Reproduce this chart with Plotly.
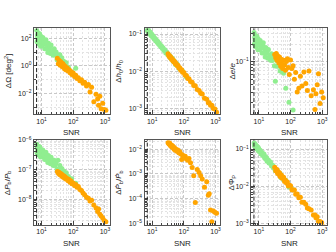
import plotly.graph_objects as go

# ---------------- data ----------------
snr_threshold = 7.0

green_snr = [7.08, 7.24, 7.41, 7.59, 7.76, 7.94, 8.13, 8.32, 8.51, 8.71,
             8.91, 9.12, 9.33, 9.55, 9.77, 10.0, 10.5, 11.0, 11.5, 12.0,
             12.6, 13.2, 13.8, 14.5, 15.1, 15.8, 16.6, 17.4, 18.2, 19.1,
             20.0, 20.9, 21.9, 23.4, 25.1, 26.9, 28.8, 30.9, 33.1, 35.5,
             38.0, 40.7, 43.7, 46.8, 50.1, 55.0, 60.3, 70.8, 89.1, 120.0]

orange_snr = [31.6, 33.9, 35.5, 37.2, 38.9, 40.7, 42.7, 44.7, 46.8, 49.0,
              51.3, 53.7, 56.2, 60.3, 64.6, 69.2, 74.1, 79.4, 85.1, 91.2,
              100, 110, 120, 132, 145, 162, 182, 204, 229, 263,
              302, 339, 380, 447, 525, 589, 631, 692, 759, 851,
              955, 1072]

# Panel 1: sky localisation  dOmega [deg^2]
green_domega = [370, 56, 170, 102, 240, 41, 174, 93, 50, 214,
                58, 95, 26, 138, 59, 100, 29, 115, 37, 48,
                17, 62, 79, 18, 32, 9.3, 43, 17, 25, 7.9,
                32, 9.1, 13, 5.8, 17, 6.0, 10, 2.8, 6.2, 2.6,
                6.5, 2.8, 3.8, 1.3, 2.2, 1.2, 1.7, 0.76, 0.35, 0.68]
orange_domega = [3.5, 1.4, 2.6, 1.8, 1.1, 2.0, 1.26, 0.89, 1.5, 0.79,
                 1.1, 0.60, 0.89, 0.50, 0.71, 0.42, 0.52, 0.32, 0.40, 0.24,
                 0.30, 0.17, 0.21, 0.12, 0.14, 0.083, 0.10, 0.056, 0.066, 0.035,
                 0.045, 0.013, 0.028, 0.0025, 0.0089, 0.004, 0.0014, 0.0063, 0.00079, 0.002,
                 0.00071, 0.00063]

# Panel 2: dh0/h0
green_dh = [0.133, 0.118, 0.127, 0.113, 0.122, 0.107, 0.117, 0.103, 0.111, 0.098,
            0.106, 0.094, 0.101, 0.089, 0.097, 0.086, 0.090, 0.078, 0.082, 0.071,
            0.075, 0.065, 0.068, 0.059, 0.063, 0.054, 0.057, 0.049, 0.051, 0.045,
            0.047, 0.041, 0.043, 0.036, 0.038, 0.031, 0.033, 0.028, 0.028, 0.024,
            0.025, 0.021, 0.022, 0.018, 0.019, 0.015, 0.016, 0.012, 0.0105, 0.0071]
orange_dh = [0.0296, 0.0255, 0.0264, 0.0232, 0.0240, 0.0212, 0.0219, 0.0193, 0.0200, 0.0177,
             0.0182, 0.0161, 0.0166, 0.0143, 0.0145, 0.0125, 0.0126, 0.0108, 0.0110, 0.0095,
             0.0094, 0.0079, 0.0078, 0.0065, 0.0064, 0.0054, 0.0051, 0.0042, 0.0041, 0.0033,
             0.0031, 0.0026, 0.0025, 0.0019, 0.0018, 0.00144, 0.00146, 0.00125, 0.00125, 0.00102,
             0.00098, 0.00081]

# Panel 3: de/e
green_de = [0.316, 0.20, 0.26, 0.23, 0.28, 0.18, 0.26, 0.22, 0.19, 0.27,
            0.195, 0.22, 0.16, 0.245, 0.20, 0.22, 0.16, 0.23, 0.17, 0.18,
            0.14, 0.195, 0.21, 0.14, 0.165, 0.12, 0.175, 0.14, 0.15, 0.114,
            0.162, 0.117, 0.128, 0.105, 0.136, 0.104, 0.118, 0.085, 0.046, 0.083,
            0.103, 0.084, 0.090, 0.069, 0.078, 0.066, 0.063, 0.035, 0.020, 0.0148]
orange_de = [0.132, 0.117, 0.138, 0.105, 0.126, 0.112, 0.095, 0.120, 0.102, 0.083,
             0.110, 0.091, 0.076, 0.105, 0.087, 0.071, 0.100, 0.112, 0.079, 0.060,
             0.107, 0.076, 0.085, 0.050, 0.065, 0.030, 0.035, 0.056, 0.038, 0.066,
             0.042, 0.032, 0.069, 0.026, 0.033, 0.015, 0.028, 0.040, 0.062, 0.019,
             0.030, 0.024]

# Panel 4: dPb/Pb
green_dpb = [7.2e-7, 3.7e-7, 5.5e-7, 4.6e-7, 6.2e-7, 3.2e-7, 5.5e-7, 4.4e-7, 3.5e-7, 5.9e-7,
             3.6e-7, 4.4e-7, 2.7e-7, 4.9e-7, 3.6e-7, 4.4e-7, 2.75e-7, 4.6e-7, 3.0e-7, 3.2e-7,
             2.2e-7, 3.5e-7, 3.9e-7, 2.2e-7, 2.75e-7, 1.75e-7, 3.0e-7, 2.15e-7, 2.45e-7, 1.6e-7,
             2.65e-7, 1.7e-7, 1.9e-7, 1.4e-7, 2.1e-7, 1.4e-7, 1.7e-7, 1.05e-7, 2.1e-7, 1.0e-7,
             1.4e-7, 1.0e-7, 1.1e-7, 7.4e-8, 9.1e-8, 7.1e-8, 8.0e-8, 6.0e-8, 5.0e-8, 3.5e-8]
orange_dpb = [8.7e-8, 7.6e-8, 8.3e-8, 6.9e-8, 7.6e-8, 6.5e-8, 7.2e-8, 6.0e-8, 6.6e-8, 5.6e-8,
              6.2e-8, 5.2e-8, 5.75e-8, 4.8e-8, 5.1e-8, 4.3e-8, 4.7e-8, 3.8e-8, 4.2e-8, 3.4e-8,
              3.6e-8, 2.95e-8, 3.2e-8, 2.6e-8, 2.75e-8, 2.2e-8, 2.0e-8, 1.66e-8, 1.45e-8, 1.2e-8,
              1.1e-8, 8.9e-9, 9.5e-9, 6.6e-9, 5.2e-9, 4.0e-9, 4.8e-9, 3.2e-9, 2.8e-9, 2.4e-9,
              2.0e-9, 1.8e-9]

# Panel 5: dPbdot/Pbdot (only orange population)
orange_dpbdot = [1.8e-2, 1.6e-2, 1.75e-2, 1.4e-2, 1.5e-2, 1.26e-2, 1.4e-2, 1.15e-2, 1.26e-2, 1.0e-2,
                 1.1e-2, 9.1e-3, 1.0e-2, 8.3e-3, 9.3e-3, 7.2e-3, 7.9e-3, 6.3e-3, 3.8e-3, 5.75e-3,
                 5.0e-3, 5.2e-3, 4.0e-3, 3.6e-3, 4.2e-3, 2.8e-3, 1.8e-3, 8.5e-4, 7.1e-5, 1.5e-3,
                 1.15e-3, 8.5e-4, 6.3e-4, 2.9e-4, 4.9e-4, 1.4e-4, 1.6e-4, 3.5e-5, 1.2e-5, 3.2e-5,
                 2.9e-5, 2.6e-5]

# Panel 6: dPhi_P
green_dphi = [0.145, 0.122, 0.128, 0.138, 0.112, 0.126, 0.111, 0.123, 0.101, 0.111,
              0.116, 0.097, 0.102, 0.109, 0.089, 0.100, 0.086, 0.093, 0.075, 0.081,
              0.081, 0.067, 0.069, 0.073, 0.058, 0.063, 0.054, 0.059, 0.047, 0.051,
              0.051, 0.042, 0.043, 0.045, 0.035, 0.037, 0.031, 0.033, 0.026, 0.027,
              0.027, 0.022, 0.022, 0.022, 0.017, 0.018, 0.015, 0.0145, 0.0096, 0.0081]
orange_dphi = [0.0325, 0.0260, 0.0268, 0.0281, 0.0224, 0.0245, 0.0211, 0.0230, 0.0183, 0.0198,
               0.0200, 0.0165, 0.0169, 0.0174, 0.0135, 0.0144, 0.0122, 0.0130, 0.0101, 0.0106,
               0.0103, 0.0080, 0.0079, 0.0079, 0.0061, 0.0062, 0.0049, 0.0051, 0.0037, 0.0037,
               0.0033, 0.0026, 0.0025, 0.0023, 0.0017, 0.0017, 0.00143, 0.00151, 0.00113, 0.00114,
               0.00107, 0.00083]

x_tick_vals = [10, 100, 1000]
x_tick_text = ["10<sup>1</sup>", "10<sup>2</sup>", "10<sup>3</sup>"]

panels = [
    dict(ylabel="ΔΩ [deg<sup>2</sup>]", g=green_domega, o=orange_domega,
         yrange=[-3.48, 2.71], yt=[1e-2, 1, 1e2],
         ytt=["10<sup>−2</sup>", "10<sup>0</sup>", "10<sup>2</sup>"],
         minor=[1e-3, 1e-1, 10]),
    dict(ylabel="Δ<i>h</i><sub>0</sub>/<i>h</i><sub>0</sub>", g=green_dh, o=orange_dh,
         yrange=[-3.14, -0.85], yt=[1e-3, 1e-2, 1e-1],
         ytt=["10<sup>−3</sup>", "10<sup>−2</sup>", "10<sup>−1</sup>"], minor=None),
    dict(ylabel="Δ<i>e</i>/<i>e</i>", g=green_de, o=orange_de,
         yrange=[-1.90, -0.43], yt=[1e-1], ytt=["10<sup>−1</sup>"], minor=None),
    dict(ylabel="Δ<i>P</i><sub>b</sub>/<i>P</i><sub>b</sub>", g=green_dpb, o=orange_dpb,
         yrange=[-8.84, -5.99], yt=[1e-8, 1e-7, 1e-6],
         ytt=["10<sup>−8</sup>", "10<sup>−7</sup>", "10<sup>−6</sup>"], minor=None),
    dict(ylabel="Δ<i>Ṗ</i><sub>b</sub>/<i>Ṗ</i><sub>b</sub>", g=None, o=orange_dpbdot,
         yrange=[-5.04, -1.62], yt=[1e-5, 1e-4, 1e-3, 1e-2],
         ytt=["10<sup>−5</sup>", "10<sup>−4</sup>", "10<sup>−3</sup>", "10<sup>−2</sup>"], minor=None),
    dict(ylabel="ΔΦ<sub>P</sub>", g=green_dphi, o=orange_dphi,
         yrange=[-3.03, -0.75], yt=[1e-3, 1e-2, 1e-1],
         ytt=["10<sup>−3</sup>", "10<sup>−2</sup>", "10<sup>−1</sup>"], minor=None),
]

# ---------------- layout ----------------
W, H = 336, 252
cols = [(34, 110), (145, 221), (252, 328)]
rows = [(25, 112.7), (139, 226)]
ytitle_x = [8, 120, 233]
GREEN = "#90EE90"
ORANGE = "#FFA500"
FONT = "Liberation Sans, Arial, sans-serif"


def log_minor(lo, hi):
    vals = []
    for d in range(lo, hi + 1):
        for m in range(2, 10):
            vals.append(m * 10.0 ** d)
    return vals


fig = go.Figure()
annotations = []
shapes = []
layout = {}

for i, p in enumerate(panels):
    r, c = divmod(i, 3)
    n = i + 1
    xa = "x" if n == 1 else f"x{n}"
    ya = "y" if n == 1 else f"y{n}"
    if p["g"] is not None:
        fig.add_trace(go.Scatter(x=green_snr, y=p["g"], mode="markers", xaxis=xa, yaxis=ya,
                                 marker=dict(color=GREEN, size=5, line=dict(width=0)),
                                 showlegend=False, hoverinfo="skip"))
    fig.add_trace(go.Scatter(x=orange_snr, y=p["o"], mode="markers", xaxis=xa, yaxis=ya,
                             marker=dict(color=ORANGE, size=5, line=dict(width=0)),
                             showlegend=False, hoverinfo="skip"))

    x0, x1 = cols[c]
    ytop, ybot = rows[r]
    common = dict(showline=True, linecolor="#555555", linewidth=1.2, mirror=True,
                  ticks="inside", ticklen=3.5, tickwidth=0.8, tickcolor="#444444",
                  showgrid=True, gridcolor="#c8c8c8", griddash="3px,2px", gridwidth=0.6,
                  zeroline=False, tickfont=dict(size=7, color="#222222", family=FONT),
                  type="log")
    ymin_d = int(p["yrange"][0]) - 1
    ymax_d = int(p["yrange"][1]) + 1
    yminor = p["minor"] if p["minor"] is not None else log_minor(ymin_d, ymax_d)
    layout["xaxis" if n == 1 else f"xaxis{n}"] = dict(
        common, domain=[x0 / W, x1 / W], anchor=ya, range=[0.76, 3.15],
        tickmode="array", tickvals=x_tick_vals, ticktext=x_tick_text,
        minor=dict(tickmode="array", tickvals=log_minor(0, 3), ticks="inside", ticklen=2,
                   tickcolor="#444444", showgrid=True, gridcolor="#e3e3e3",
                   griddash="2px,2px", gridwidth=0.5))
    layout["yaxis" if n == 1 else f"yaxis{n}"] = dict(
        common, domain=[1 - ybot / H, 1 - ytop / H], anchor=xa, range=p["yrange"],
        tickmode="array", tickvals=p["yt"], ticktext=p["ytt"],
        minor=dict(tickmode="array", tickvals=yminor, ticks="inside", ticklen=2,
                   tickcolor="#444444", showgrid=True, gridcolor="#e3e3e3",
                   griddash="2px,2px", gridwidth=0.5))

    shapes.append(dict(type="line", xref=xa, yref=f"{ya} domain", x0=snr_threshold,
                       x1=snr_threshold, y0=0, y1=1,
                       line=dict(color="#222222", width=1, dash="4px,2px")))
    annotations.append(dict(text="SNR", xref="paper", yref="paper",
                            x=(x0 + x1) / 2 / W, y=1 - (ybot + 19) / H,
                            showarrow=False, font=dict(size=8, color="#222222", family=FONT),
                            xanchor="center", yanchor="middle"))
    annotations.append(dict(text=p["ylabel"], xref="paper", yref="paper",
                            x=ytitle_x[c] / W, y=1 - (ytop + ybot) / 2 / H, textangle=-90,
                            showarrow=False, font=dict(size=8, color="#222222", family=FONT),
                            xanchor="center", yanchor="middle"))

fig.update_layout(width=W, height=H, margin=dict(l=0, r=0, t=0, b=0),
                  paper_bgcolor="white", plot_bgcolor="white",
                  shapes=shapes, annotations=annotations, **layout)

fig.write_html("out.html", config={"displayModeBar": False},
               post_script="document.body.style.margin='0';document.body.style.overflow='hidden';")
